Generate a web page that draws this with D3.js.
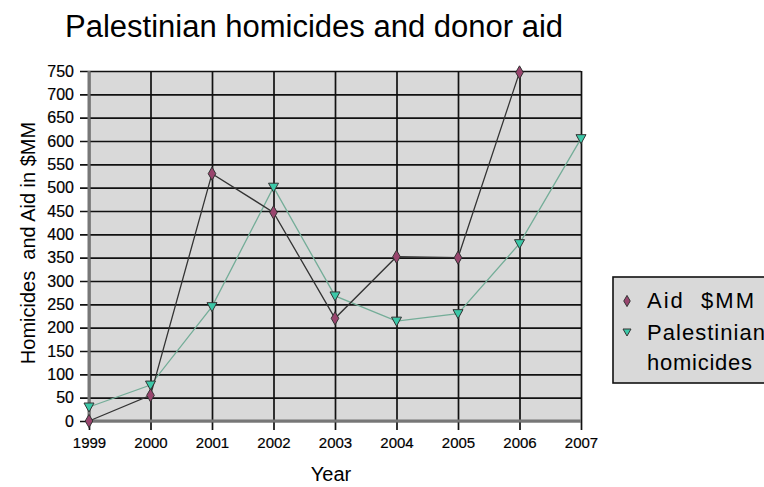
<!DOCTYPE html>
<html>
<head>
<meta charset="utf-8">
<title>Palestinian homicides and donor aid</title>
<script src="https://d3js.org/d3.v7.min.js"></script>
<style>
  body { margin: 0; background: #fff; }
  text { font-family: Arial, "Liberation Sans", sans-serif; fill: #000; }
</style>
</head>
<body>
<script>
// data
var years = [1999, 2000, 2001, 2002, 2003, 2004, 2005, 2006, 2007];
var aid = [0, 55, 530, 447, 220, 352, 350, 747, null];
var homicides = [30, 77, 245, 501, 268, 214, 230, 380, 605];
var yTicks = d3.range(0, 751, 50);

var w = 764, h = 487;
var pLeft = 89, pRight = 581, pTop = 71, pBottom = 421;

var svg = d3.select("body").append("svg").attr("width", w).attr("height", h);

var x = d3.scalePoint().domain(years).range([pLeft, pRight]);
var y = d3.scaleLinear().domain([0, 750]).range([pBottom, pTop]);

// plot area
svg.append("rect")
    .attr("x", pLeft).attr("y", pTop)
    .attr("width", pRight - pLeft).attr("height", pBottom - pTop)
    .attr("fill", "#d9d9d9");

// horizontal grid + ticks
svg.append("g")
    .attr("transform", "translate(" + pLeft + ",0)")
    .call(d3.axisLeft(y).tickValues(yTicks).tickSize(-(pRight - pLeft)).tickPadding(15))
    .call(function(g) {
        g.select(".domain").remove();
        g.selectAll(".tick line").attr("stroke", "#111").attr("stroke-width", 1.7)
            .attr("x1", -9);
        g.selectAll(".tick text").attr("font-size", 16).attr("stroke", "#000").attr("stroke-width", 0.2);
    });

// vertical grid + year labels
svg.append("g")
    .attr("transform", "translate(0," + pBottom + ")")
    .call(d3.axisBottom(x).tickSize(-(pBottom - pTop)).tickPadding(16))
    .call(function(g) {
        g.select(".domain").remove();
        g.selectAll(".tick line").attr("stroke", "#111").attr("stroke-width", 1.7)
            .attr("y1", 9);
        g.selectAll(".tick text").attr("font-size", 15).attr("stroke", "#000").attr("stroke-width", 0.2);
    });

// left and bottom thick grey edges
svg.append("line").attr("x1", pLeft).attr("x2", pLeft).attr("y1", pTop).attr("y2", pBottom + 2)
    .attr("stroke", "#777").attr("stroke-width", 3);
svg.append("line").attr("x1", pLeft).attr("x2", pRight).attr("y1", pBottom).attr("y2", pBottom)
    .attr("stroke", "#777").attr("stroke-width", 3);

// lines
var line = d3.line()
    .defined(function(d) { return d[1] != null; })
    .x(function(d) { return x(d[0]); })
    .y(function(d) { return y(d[1]); });

svg.append("path")
    .datum(years.map(function(d, i) { return [d, homicides[i]]; }))
    .attr("d", line).attr("fill", "none")
    .attr("stroke", "#74ad98").attr("stroke-width", 1.3);

svg.append("path")
    .datum(years.map(function(d, i) { return [d, aid[i]]; }))
    .attr("d", line).attr("fill", "none")
    .attr("stroke", "#333").attr("stroke-width", 1.3);

var diamond = d3.symbol().type(d3.symbolDiamond).size(50);
var smallDiamond = d3.symbol().type(d3.symbolDiamond).size(36);
var tri = "M-5,-4 L5,-4 L0,5 Z";
var smallTri = "M-4,-3 L4,-3 L0,4 Z";

svg.selectAll(".tri").data(years.map(function(d, i) { return [d, homicides[i]]; }))
    .enter().append("path").attr("class", "tri")
    .attr("transform", function(d) { return "translate(" + x(d[0]) + "," + y(d[1]) + ")"; })
    .attr("d", tri).attr("fill", "#3cc8a8").attr("stroke", "#333").attr("stroke-width", 1);

svg.selectAll(".dia").data(years.map(function(d, i) { return [d, aid[i]]; }).filter(function(d) { return d[1] != null; }))
    .enter().append("path").attr("class", "dia")
    .attr("transform", function(d) { return "translate(" + x(d[0]) + "," + y(d[1]) + ")"; })
    .attr("d", diamond).attr("fill", "#99456e").attr("stroke", "#333").attr("stroke-width", 1);

// titles
svg.append("text").attr("x", 314).attr("y", 37).attr("text-anchor", "middle")
    .attr("font-size", 31).text("Palestinian homicides and donor aid");
svg.append("text").attr("x", 331).attr("y", 481).attr("text-anchor", "middle")
    .attr("font-size", 20).text("Year");
svg.append("text").attr("transform", "translate(35,243) rotate(-90)")
    .attr("text-anchor", "middle").attr("font-size", 20)
    .attr("xml:space", "preserve").text("Homicides  and Aid in $MM");

// legend
var lg = svg.append("g");
lg.append("rect").attr("x", 613).attr("y", 277).attr("width", 160).attr("height", 106)
    .attr("fill", "#d9d9d9").attr("stroke", "#111").attr("stroke-width", 1.6);
lg.append("path").attr("transform", "translate(627,301)").attr("d", smallDiamond)
    .attr("fill", "#99456e").attr("stroke", "#333");
lg.append("text").attr("x", 647).attr("y", 308).attr("font-size", 22)
    .attr("xml:space", "preserve").attr("textLength", 107).text("Aid  $MM");
lg.append("path").attr("transform", "translate(627,332)").attr("d", smallTri)
    .attr("fill", "#3cc8a8").attr("stroke", "#333");
lg.append("text").attr("x", 647).attr("y", 340).attr("font-size", 22)
    .attr("textLength", 118).text("Palestinian");
lg.append("text").attr("x", 647).attr("y", 370).attr("font-size", 22)
    .attr("textLength", 105).text("homicides");
</script>
</body>
</html>
